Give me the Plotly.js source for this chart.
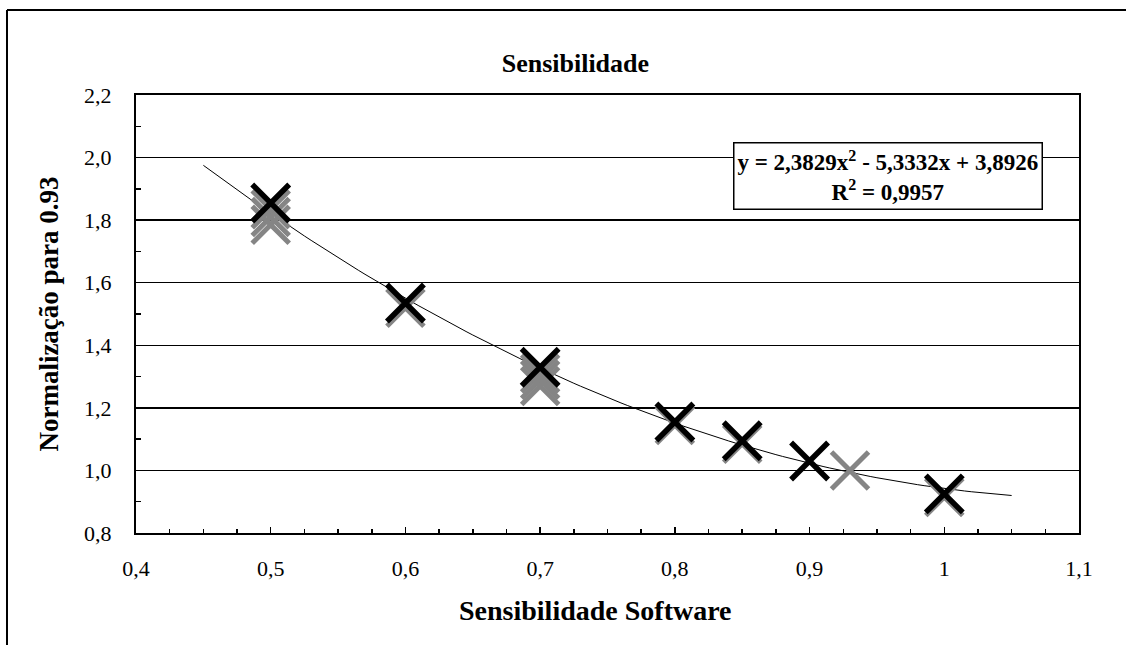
<!DOCTYPE html>
<html>
<head>
<meta charset="utf-8">
<script src="https://cdn.plot.ly/plotly-3.0.1.min.js"></script>
<style>
  html, body { margin: 0; padding: 0; background: #ffffff; }
  #chart { width: 1126px; height: 645px; }
</style>
</head>
<body>
<div id="chart"></div>
<script>
// ---- data ----
const mainX = [0.5, 0.6, 0.7, 0.8, 0.85, 0.9, 1.0];
const mainY = [1.855, 1.535, 1.33, 1.155, 1.095, 1.03, 0.925];

const repX = [0.5, 0.5, 0.5, 0.6, 0.7, 0.7, 0.7, 0.8, 0.85, 0.93, 1.0];
const repY = [1.835, 1.81, 1.785, 1.52, 1.31, 1.29, 1.27, 1.145, 1.085, 1.0, 0.915];

// polynomial trendline shown on the chart: y = a x^2 + b x + c
const trendCoef = [2.3829, -5.3332, 3.8926];
const trendRange = [0.45, 1.05];
const rSquared = "0,9957";

const chartTitle = "Sensibilidade";
const xTitle = "Sensibilidade Software";
const yTitle = "Normalização para 0.93";

// ---- trendline built from the displayed equation ----
const tX = [], tY = [];
for (let i = 0; i <= 120; i++) {
  const x = trendRange[0] + (trendRange[1] - trendRange[0]) * i / 120;
  tX.push(x);
  tY.push(trendCoef[0] * x * x + trendCoef[1] * x + trendCoef[2]);
}

const fmt = v => Math.abs(v).toFixed(4).replace('.', ',');
const eqText = 'y = ' + fmt(trendCoef[0]) + 'x<sup>2</sup> ' + (trendCoef[1] < 0 ? '- ' : '+ ') +
  fmt(trendCoef[1]) + 'x ' + (trendCoef[2] < 0 ? '- ' : '+ ') + fmt(trendCoef[2]) +
  '<br>R<sup>2</sup> = ' + rSquared;

const serif = '"Liberation Serif", "Times New Roman", serif';

const traces = [
  {
    x: tX, y: tY, mode: 'lines', type: 'scatter',
    line: { color: '#000000', width: 1 }, hoverinfo: 'skip', showlegend: false
  },
  {
    x: repX, y: repY, mode: 'markers', type: 'scatter', showlegend: false,
    marker: { symbol: 'x-thin-open', size: 37, color: '#858585', line: { color: '#858585', width: 5 } }
  },
  {
    x: mainX, y: mainY, mode: 'markers', type: 'scatter', showlegend: false,
    marker: { symbol: 'x-thin-open', size: 37, color: '#000000', line: { color: '#000000', width: 5.5 } }
  }
];

const layout = {
  width: 1126, height: 645,
  margin: { l: 136, r: 47, t: 95, b: 112 },
  paper_bgcolor: '#ffffff', plot_bgcolor: '#ffffff',
  separators: ',.',
  showlegend: false,
  font: { family: serif, color: '#000000', size: 22 },
  title: {
    text: '<b>' + chartTitle + '</b>',
    font: { family: serif, size: 26, color: '#000000' },
    xref: 'container', yref: 'container',
    x: 0.511, y: 0.903, xanchor: 'center', yanchor: 'middle'
  },
  xaxis: {
    range: [0.4, 1.1], dtick: 0.1, tick0: 0.4,
    showgrid: false, zeroline: false,
    showline: true, linecolor: '#000000', linewidth: 2, mirror: true,
    ticks: 'inside', ticklen: 6, tickwidth: 1.5, tickcolor: '#000000',
    minor: { dtick: 0.025, ticks: 'inside', ticklen: 4, tickwidth: 1.5, tickcolor: '#000000', showgrid: false },
    ticklabelstandoff: 15,
    tickfont: { family: serif, size: 22, color: '#000000' },
    automargin: false
  },
  yaxis: {
    range: [0.8, 2.2], dtick: 0.2, tick0: 0.8, tickformat: '.1f',
    showgrid: true, gridcolor: '#000000', gridwidth: 1.5,
    zeroline: false,
    showline: true, linecolor: '#000000', linewidth: 2, mirror: true,
    ticks: 'inside', ticklen: 6, tickwidth: 1.5, tickcolor: '#000000',
    minor: { dtick: 0.1, ticks: 'inside', ticklen: 5, tickwidth: 1.5, tickcolor: '#000000', showgrid: false },
    ticklabelstandoff: 18,
    tickfont: { family: serif, size: 22, color: '#000000' },
    title: { text: '<b>' + yTitle + '</b>', font: { family: serif, size: 27, color: '#000000' }, standoff: 18 },
    automargin: false
  },
  annotations: [
    {
      xref: 'paper', yref: 'paper', x: 0.7975, y: 0.815,
      xanchor: 'center', yanchor: 'middle',
      text: '<b>' + eqText + '</b>', showarrow: false, align: 'center',
      font: { family: serif, size: 23, color: '#000000' },
      bgcolor: '#ffffff', bordercolor: '#000000', borderwidth: 1.5, borderpad: 3
    },
    {
      // x-axis title, placed under the axis as in the reference (slightly left of centre)
      xref: 'paper', yref: 'paper', x: (595 - 136) / 943, y: -(610 - 533) / 438,
      xanchor: 'center', yanchor: 'middle',
      text: '<b>' + xTitle + '</b>', showarrow: false,
      font: { family: serif, size: 28, color: '#000000' }
    }
  ],
  shapes: [
    { type: 'line', xref: 'paper', yref: 'paper', x0: -0.1368, x1: 1.06, y0: 1.194, y1: 1.194,
      line: { color: '#000000', width: 2 } },
    { type: 'line', xref: 'paper', yref: 'paper', x0: -0.1368, x1: -0.1368, y0: 1.194, y1: -0.26,
      line: { color: '#000000', width: 2 } }
  ]
};

Plotly.newPlot('chart', traces, layout, { displayModeBar: false, staticPlot: true });
</script>
</body>
</html>
